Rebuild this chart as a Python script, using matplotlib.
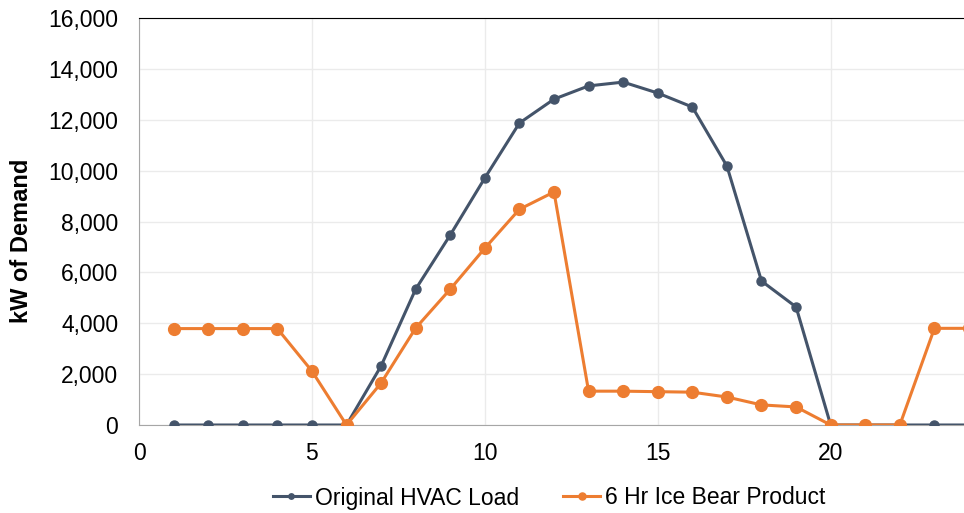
import matplotlib
matplotlib.use("Agg")
import matplotlib.pyplot as plt
from matplotlib.ticker import FuncFormatter, MultipleLocator

plt.rcParams['font.family'] = ['Liberation Sans', 'DejaVu Sans']

hours = list(range(1, 25))
original = [0, 0, 0, 0, 0, 0, 2320, 5340, 7470, 9710, 11870, 12810, 13330, 13480,
            13050, 12500, 10180, 5660, 4640, 0, 0, 0, 0, 0]
ice_bear = [3790, 3790, 3790, 3790, 2120, 0, 1650, 3810, 5340, 6950, 8480, 9160, 1330,
            1330, 1310, 1290, 1100, 790, 710, 0, 0, 0, 3800, 3800]
labels = ["Original HVAC Load", "6 Hr Ice Bear Product"]

fig = plt.figure(figsize=(9.64, 5.13), dpi=100)
ax = fig.add_axes([139/964, 1-425/513, 830/964, 407/513])

ax.plot(hours, original, color='#44546A', lw=2.2, marker='o', ms=6.5, label=labels[0], zorder=3)
ax.plot(hours, ice_bear, color='#ED7D31', lw=2.2, marker='o', ms=8.5, label=labels[1], zorder=4)

ax.set_xlim(0, 24)
ax.set_ylim(0, 16000)
ax.xaxis.set_major_locator(MultipleLocator(5))
ax.yaxis.set_major_locator(MultipleLocator(2000))
ax.yaxis.set_major_formatter(FuncFormatter(lambda v, p: f"{int(v):,}"))
ax.grid(True, color='#EBEBEB', lw=1)
ax.set_axisbelow(True)
ax.tick_params(length=0, labelsize=16.5, colors='black')
ax.tick_params(axis='y', pad=15)
ax.tick_params(axis='x', pad=12)
for s in ['left', 'bottom']:
    ax.spines[s].set_color('#A6A6A6')
ax.spines['top'].set_color('black')
ax.spines['right'].set_visible(False)

fig.text(22/964, 1-241/513, "kW of Demand", rotation=90, ha='center', va='center',
         fontsize=17, fontweight='bold')

fig.legend(loc='center', bbox_to_anchor=(549/964, 1-498/513), ncol=2, frameon=False,
           fontsize=16.5, handlelength=1.65, columnspacing=1.9, handletextpad=0.2, markerscale=0.6)

fig.savefig("out.png", dpi=100)
